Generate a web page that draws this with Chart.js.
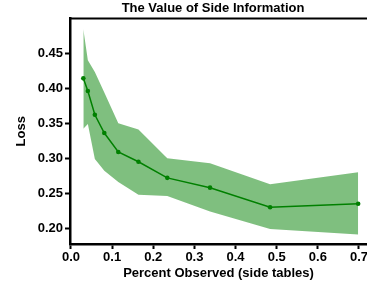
<!DOCTYPE html>
<html>
<head>
<meta charset="utf-8">
<script src="https://cdn.jsdelivr.net/npm/chart.js@4"></script>
<style>
    html, body { margin: 0; padding: 0; background: #fff; overflow: hidden; }
    #wrap { width: 367px; height: 286px; }
</style>
</head>
<body>
<div id="wrap"><canvas id="chartSideInfo"></canvas></div>
<script>
/* ========== Value of side information ========== */

const pctObserved = [0.030, 0.041, 0.058, 0.081, 0.115, 0.164, 0.234, 0.338, 0.484, 0.698];
const meanLoss = [0.414, 0.396, 0.362, 0.336, 0.309, 0.295, 0.272, 0.258, 0.230, 0.235];
const upperLoss = [0.484, 0.440, 0.423, 0.394, 0.350, 0.341, 0.300, 0.293, 0.263, 0.280];
const lowerLoss = [0.342, 0.349, 0.299, 0.282, 0.266, 0.248, 0.246, 0.224, 0.199, 0.191];
const xTicks = [0.0, 0.1, 0.2, 0.3, 0.4, 0.5, 0.6, 0.7];
const yTicks = [0.20, 0.25, 0.30, 0.35, 0.40, 0.45];

const palette = {
    line: 'rgb(0, 128, 0)',
    band: 'rgba(0, 128, 0, 0.5)',
    text: '#000',
};

const font = { family: '"Liberation Sans", Arial, sans-serif', size: 13, weight: 'bold' };

const toPoints = ys => pctObserved.map((x, i) => ({ x, y: ys[i] }));

// top spine, like the matplotlib box; the title sits a bit left of the plot centre
const frame = {
    id: 'frame',
    afterLayout(chart) {
        if (chart.titleBlock) {
            chart.titleBlock.left = 59;
            chart.titleBlock.right = 367;
        }
    },
    afterDraw(chart) {
        const { ctx, chartArea } = chart;
        ctx.save();
        ctx.strokeStyle = '#000';
        ctx.lineWidth = 2;
        ctx.beginPath();
        ctx.moveTo(chartArea.left, chartArea.top);
        ctx.lineTo(chartArea.right, chartArea.top);
        ctx.stroke();
        ctx.restore();
    },
};

const axisStyle = {
    border: { display: true, color: '#000', width: 2.5 },
    grid: { display: true, drawOnChartArea: false, drawTicks: true, tickLength: 5, tickWidth: 2, tickColor: '#000' },
};

const ctx = document.getElementById('chartSideInfo').getContext('2d');
new Chart(ctx, {
    type: 'line',
    data: {
        datasets: [
            {
                label: 'lower',
                data: toPoints(lowerLoss),
                borderWidth: 0,
                pointRadius: 0,
                fill: false,
                tension: 0,
            },
            {
                label: 'upper',
                data: toPoints(upperLoss),
                borderWidth: 0,
                pointRadius: 0,
                backgroundColor: palette.band,
                fill: '-1',
                tension: 0,
            },
            {
                label: 'Loss',
                data: toPoints(meanLoss),
                borderColor: palette.line,
                backgroundColor: palette.line,
                borderWidth: 1.5,
                pointRadius: 2.3,
                pointBorderWidth: 0,
                fill: false,
                tension: 0,
            },
        ],
    },
    options: {
        responsive: true,
        maintainAspectRatio: false,
        animation: false,
        layout: { padding: 0, autoPadding: false },
        plugins: {
            legend: { display: false },
            tooltip: { enabled: false },
            title: {
                display: true,
                text: 'The Value of Side Information',
                color: palette.text,
                font,
                fullSize: false,
                padding: { top: 1, bottom: 2 },
            },
        },
        scales: {
            x: {
                type: 'linear',
                min: -0.0024,
                max: 0.7195,
                ...axisStyle,
                afterBuildTicks: s => { s.ticks = xTicks.map(v => ({ value: v })); },
                afterFit: s => { s.height = 42; s.paddingLeft = 0; s.paddingRight = 0; },
                ticks: { color: palette.text, font, padding: 1, maxRotation: 0, callback: v => v.toFixed(1) },
                title: { display: true, text: 'Percent Observed (side tables)', color: palette.text, font, padding: { top: 5, bottom: 5 } },
            },
            y: {
                type: 'linear',
                min: 0.1776,
                max: 0.4993,
                ...axisStyle,
                afterBuildTicks: s => { s.ticks = yTicks.map(v => ({ value: v })); },
                afterFit: s => { s.width = 70; },
                ticks: { color: palette.text, font, padding: 2, callback: v => v.toFixed(2) },
                title: { display: true, text: 'Loss', color: palette.text, font, padding: { top: 14, bottom: 0 } },
            },
        },
    },
    plugins: [frame],
});
</script>
</body>
</html>
